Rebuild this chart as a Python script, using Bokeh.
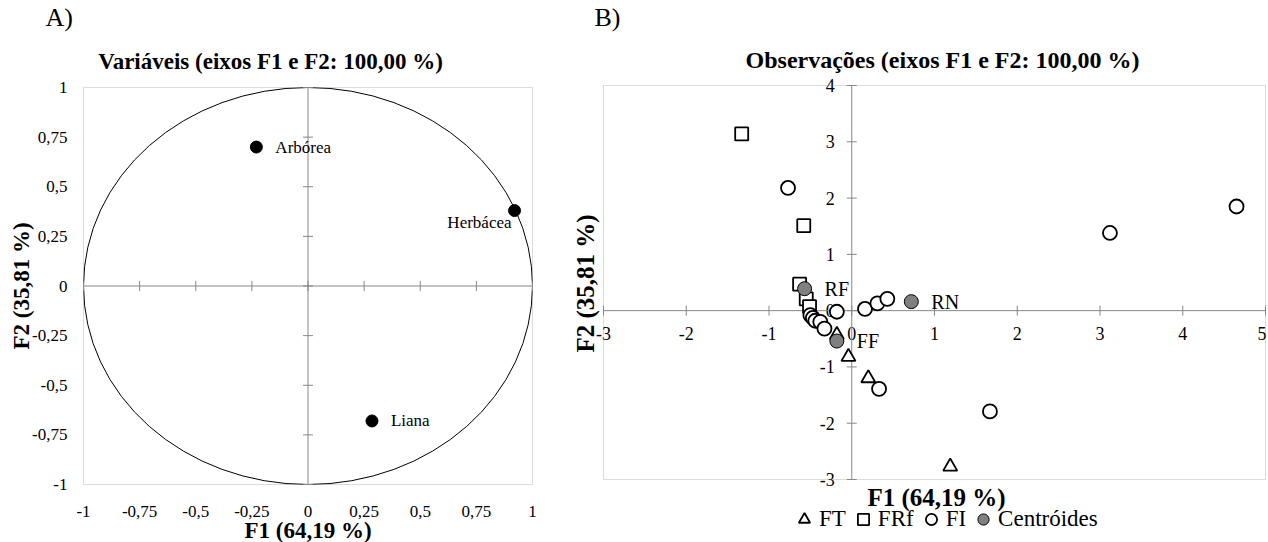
import math
from bokeh.plotting import figure
from bokeh.models import (ColumnDataSource, LabelSet, Label, BoxAnnotation, Legend,
                          LegendItem, Range1d)
from bokeh.layouts import row
from bokeh.embed import file_html
from bokeh.resources import INLINE
from bokeh.core.properties import value

FONT = "Liberation Serif"
GRAY = "#878787"

# ---------------- Panel A data (variables) ----------------
var_names = ["Arbórea", "Herbácea", "Liana"]
var_f1 = [-0.23, 0.92, 0.285]
var_f2 = [0.70, 0.38, -0.68]
a_ticks = [-1, -0.75, -0.5, -0.25, 0, 0.25, 0.5, 0.75, 1]
a_tick_labels = ["-1", "-0,75", "-0,5", "-0,25", "0", "0,25", "0,5", "0,75", "1"]
A_XLIM = (-1, 1)
A_YLIM = (-1, 1)

# ---------------- Panel B data (observations) ----------------
ft_f1 = [-0.18, -0.04, 0.20, 1.19]
ft_f2 = [-0.43, -0.82, -1.20, -2.77]
frf_f1 = [-1.33, -0.58, -0.63, -0.55, -0.51]
frf_f2 = [3.14, 1.51, 0.47, 0.21, 0.07]
fi_f1 = [-0.77, -0.50, -0.47, -0.44, -0.38, -0.33, -0.18, 0.16, 0.31, 0.43, 0.33, 1.67, 3.12, 4.65]
fi_f2 = [2.18, -0.08, -0.13, -0.18, -0.20, -0.32, -0.02, 0.03, 0.13, 0.21, -1.39, -1.79, 1.38, 1.85]
cen_names = ["RF", "RN", "FF"]
cen_f1 = [-0.57, 0.72, -0.18]
cen_f2 = [0.39, 0.16, -0.54]
bx_ticks = [-3, -2, -1, 0, 1, 2, 3, 4, 5]
by_ticks = [-3, -2, -1, 0, 1, 2, 3, 4]
B_XLIM = (-3, 5)
B_YLIM = (-3, 4)
legend_labels = ["FT", "FRf", "FI", "Centróides"]

# ---------------- layout (pixels on the page) ----------------
H = 542
A_W = 560
B_W = 708
A_BOX = (83, 532, 87, 484)      # left, right, top, bottom of plot border (panel A canvas px)
B_BOX = (43, 705, 85, 479)      # same for panel B (its own canvas px)


def mapper(lim_x, lim_y, box):
    l, r, t, b = box
    sx = (r - l) / (lim_x[1] - lim_x[0])
    sy = (b - t) / (lim_y[1] - lim_y[0])
    fx = lambda px: lim_x[0] + (px - l) / sx
    fy = lambda py: lim_y[1] - (py - t) / sy
    return fx, fy


def make_fig(w, lim_x, lim_y, box):
    fx, fy = mapper(lim_x, lim_y, box)
    p = figure(width=w, height=H, x_range=Range1d(fx(0), fx(w)), y_range=Range1d(fy(H), fy(0)),
               output_backend="svg", toolbar_location=None,
               x_axis_location=None, y_axis_location=None,
               min_border_left=0, min_border_right=0, min_border_top=0, min_border_bottom=0)
    p.title.visible = False
    p.grid.visible = False
    p.outline_line_color = None
    p.add_layout(BoxAnnotation(left=lim_x[0], right=lim_x[1], bottom=lim_y[0], top=lim_y[1],
                               fill_color=None, line_color=GRAY, line_width=1))
    p.segment(x0=[lim_x[0], 0], y0=[0, lim_y[0]], x1=[lim_x[1], 0], y1=[0, lim_y[1]],
              line_color=GRAY, line_width=1)
    return p, fx, fy


def text(p, x, y, t, size, bold=False, align="center", angle=0.0):
    p.add_layout(Label(x=x, y=y, text=t, text_font=FONT, text_font_size=size,
                       text_font_style="bold" if bold else "normal", text_color="black",
                       text_align=align, text_baseline="middle", angle=angle))


def tick_labels(p, xs, ys, labels, size, **kw):
    src = ColumnDataSource(dict(x=xs, y=ys, t=labels))
    p.add_layout(LabelSet(x="x", y="y", text="t", source=src, text_baseline="middle",
                          text_font=value(FONT), text_font_size=value(size),
                          text_color="black", **kw))


# =============== Panel A ===============
pa, ax_, ay_ = make_fig(A_W, A_XLIM, A_YLIM, A_BOX)
pa.ellipse(x=[0], y=[0], width=[A_XLIM[1] - A_XLIM[0]], height=[A_YLIM[1] - A_YLIM[0]],
           fill_color=None, line_color="black", line_width=1)
pa.scatter(x=[0] * len(a_ticks), y=a_ticks, marker="dash", size=10, line_color=GRAY, line_width=1)
pa.scatter(x=a_ticks, y=[0] * len(a_ticks), marker="dash", angle=math.pi / 2, size=10,
           line_color=GRAY, line_width=1)
pa.scatter(x=var_f1, y=var_f2, size=12, fill_color="black", line_color="black")

tick_labels(pa, [A_XLIM[0]] * len(a_ticks), a_ticks, a_tick_labels, "17px",
            x_offset=-16, text_align="right")
tick_labels(pa, a_ticks, [A_YLIM[0]] * len(a_ticks), a_tick_labels, "17px",
            y_offset=-27, text_align="center")

right_idx = [0, 2]
tick_labels(pa, [var_f1[i] for i in right_idx], [var_f2[i] for i in right_idx],
            [var_names[i] for i in right_idx], "17px", x_offset=19, text_align="left")
tick_labels(pa, [var_f1[1]], [var_f2[1]], [var_names[1]], "17px",
            x_offset=-3, y_offset=-12, text_align="right")

text(pa, ax_(45), ay_(17), "A)", "26px", align="left")
text(pa, ax_(270), ay_(61), "Variáveis (eixos F1 e F2: 100,00 %)", "23px", bold=True)
text(pa, 0, ay_(530), "F1 (64,19 %)", "23px", bold=True)
text(pa, ax_(21), 0, "F2 (35,81 %)", "23px", bold=True, angle=math.pi / 2)

# =============== Panel B ===============
pb, bx_, by_ = make_fig(B_W, B_XLIM, B_YLIM, B_BOX)
pb.scatter(x=[0] * len(by_ticks), y=by_ticks, marker="dash", size=10, line_color=GRAY, line_width=1)
pb.scatter(x=bx_ticks, y=[0] * len(bx_ticks), marker="dash", angle=math.pi / 2, size=10,
           line_color=GRAY, line_width=1)

# x tick labels below the horizontal axis; the last one sits at the border edge
tick_labels(pb, bx_ticks[:-1], [0] * (len(bx_ticks) - 1), [str(v) for v in bx_ticks[:-1]], "18px",
            y_offset=-23, text_align="center", level="underlay")
tick_labels(pb, bx_ticks[-1:], [0], [str(bx_ticks[-1])], "18px",
            y_offset=-23, x_offset=1, text_align="right", level="underlay")
tick_labels(pb, [0] * len(by_ticks), by_ticks, [str(v) for v in by_ticks], "18px",
            x_offset=-17, text_align="right", level="underlay")

r_ft = pb.scatter(x=ft_f1, y=ft_f2, marker="triangle", size=14, fill_color="white",
                  line_color="black", line_width=1.8)
r_frf = pb.scatter(x=frf_f1, y=frf_f2, marker="square", size=13, fill_color="white",
                   line_color="black", line_width=1.8)
r_fi = pb.scatter(x=fi_f1, y=fi_f2, marker="circle", size=14, fill_color="white",
                  line_color="black", line_width=1.8)
r_cen = pb.scatter(x=cen_f1, y=cen_f2, marker="circle", size=14, fill_color="#808080",
                   line_color="black", line_width=1)

tick_labels(pb, cen_f1, cen_f2, cen_names, "20px", x_offset=20, text_align="left")

text(pb, bx_(594 - A_W), by_(17), "B)", "26px", align="left")
text(pb, bx_(942 - A_W), by_(59), "Observações (eixos F1 e F2: 100,00 %)", "24px", bold=True)
text(pb, bx_(936 - A_W), by_(497), "F1 (64,19 %)", "25px", bold=True)
text(pb, bx_(585 - A_W), by_(283), "F2 (35,81 %)", "25px", bold=True, angle=math.pi / 2)

legend = Legend(items=[LegendItem(label=legend_labels[0], renderers=[r_ft]),
                       LegendItem(label=legend_labels[1], renderers=[r_frf]),
                       LegendItem(label=legend_labels[2], renderers=[r_fi]),
                       LegendItem(label=legend_labels[3], renderers=[r_cen])],
                orientation="horizontal", location=(790 - A_W, 8), label_text_font=FONT,
                label_text_font_size="23px", label_text_color="black", glyph_width=28,
                glyph_height=30, label_standoff=1, spacing=3, padding=0, margin=0,
                border_line_color=None, background_fill_alpha=0)
pb.add_layout(legend, "center")

layout = row(pa, pb)
open("out.html", "w").write(file_html(layout, INLINE))
